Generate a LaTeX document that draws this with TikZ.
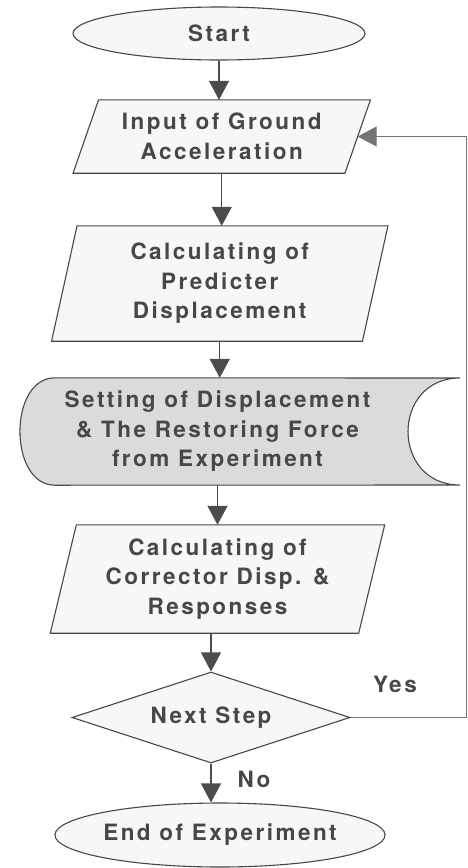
\documentclass[tikz,border=0pt]{standalone}
\usepackage{fontspec}
\newfontfamily\flowfont{TeX Gyre Heros}[LetterSpace=11]
\usetikzlibrary{shapes.geometric,arrows.meta,backgrounds}

\tikzset{
  label font/.style={text=black!72,
    font=\flowfont\bfseries\fontsize{22.5pt}{29.5pt}\selectfont},
  outline/.style={draw=black!72, line width=1.1pt, fill=black!3},
  box/.style={outline, inner sep=0pt, align=center, label font},
  term/.style={box, ellipse},
  decision/.style={box, diamond, shape aspect=3.05},
  plain/.style={inner sep=0pt, align=center, label font},
  flow/.style={draw=black!70, line width=1.3pt,
    -{Triangle[width=20pt,length=19pt]}},
  loopline/.style={draw=black!55, line width=1.1pt,
    -{Triangle[width=20pt,length=19pt]}}
}
% slanted (input/output) outline around a text node: #1 node, #2 half slant
\newcommand\slantoutline[2]{%
  \draw[outline] ([xshift=#2]#1.north west) -- ([xshift=#2]#1.north east)
    -- ([xshift=-#2]#1.south east) -- ([xshift=-#2]#1.south west) -- cycle;}

\begin{document}
\begin{tikzpicture}[x=1pt,y=-1pt]
\useasboundingbox (0,0) rectangle (468,868);

% process steps
\node[term, minimum width=292pt, minimum height=53pt] (start) at (219,33.5) {Start};
\node[plain, minimum width=271.5pt, minimum height=73pt] (input) at (221.75,136.5)
  {Input of Ground\\Acceleration};
\node[plain, minimum width=310.5pt, minimum height=115pt] (pred) at (219.75,283.5)
  {Calculating of\\Predicter\\Displacement};
\node[plain, minimum width=325pt, minimum height=107pt] (setting) at (217.5,431.5)
  {Setting of Displacement\\\& The Restoring Force\\from Experiment};
\node[plain, minimum width=308pt, minimum height=108pt] (corr) at (217.5,579)
  {Calculating of\\Corrector Disp. \&\\Responses};
\node[decision, minimum width=278pt, minimum height=91pt] (dec) at (211,717.5) {Next Step};
\node[term, minimum width=324pt, minimum height=64pt] (end) at (220,835) {End of Experiment};

% outlines drawn behind the text of the slanted and stored-data steps
\begin{scope}[on background layer]
  \slantoutline{input}{12.75pt}
  \slantoutline{pred}{12.75pt}
  \slantoutline{corr}{13pt}
  \draw[outline, fill=black!14]
    (setting.north west) .. controls (8.3,378) and (8.3,485) .. (setting.south west)
    -- (460,485) .. controls (390.7,485) and (390.7,378) .. (460,378) -- cycle;
\end{scope}

% branch labels
\node[plain] (yes) at (395,684) {Yes};
\node[plain] (no) at (254,779) {No};

% connectors
\coordinate (back) at (466.5,137);
\draw[flow] (start) -- (start |- input.north);
\draw[flow] (input) -- (input |- pred.north);
\draw[flow] (pred) -- (pred |- setting.north);
\draw[flow] (setting) -- (setting |- corr.north);
\draw[flow] (corr.south -| dec) -- (dec);
\draw[flow] (dec) -- (dec |- end.north);
\draw[loopline] (dec.east) -- (dec.east -| back) |- (input.east);
\end{tikzpicture}
\end{document}
